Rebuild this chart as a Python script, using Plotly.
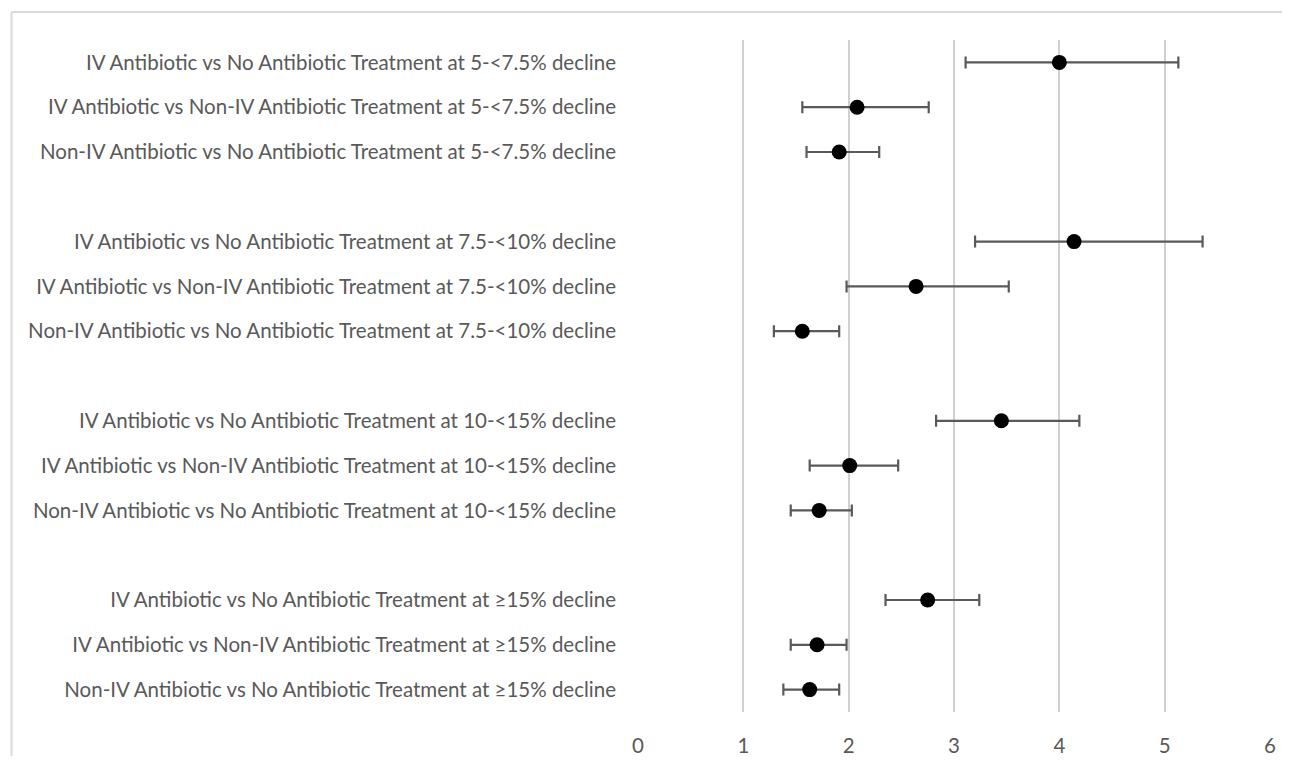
import plotly.graph_objects as go

labels = [
    "IV Antibiotic vs No Antibiotic Treatment at 5-<7.5% decline",
    "IV Antibiotic vs Non-IV Antibiotic Treatment at 5-<7.5% decline",
    "Non-IV Antibiotic vs No Antibiotic Treatment at 5-<7.5% decline",
    "IV Antibiotic vs No Antibiotic Treatment at 7.5-<10% decline",
    "IV Antibiotic vs Non-IV Antibiotic Treatment at 7.5-<10% decline",
    "Non-IV Antibiotic vs No Antibiotic Treatment at 7.5-<10% decline",
    "IV Antibiotic vs No Antibiotic Treatment at 10-<15% decline",
    "IV Antibiotic vs Non-IV Antibiotic Treatment at 10-<15% decline",
    "Non-IV Antibiotic vs No Antibiotic Treatment at 10-<15% decline",
    "IV Antibiotic vs No Antibiotic Treatment at ≥15% decline",
    "IV Antibiotic vs Non-IV Antibiotic Treatment at ≥15% decline",
    "Non-IV Antibiotic vs No Antibiotic Treatment at ≥15% decline",
]
estimate = [4.00, 2.08, 1.91, 4.14, 2.64, 1.56, 3.45, 2.01, 1.72, 2.75, 1.70, 1.63]
lower = [3.11, 1.56, 1.60, 3.20, 1.98, 1.29, 2.83, 1.63, 1.45, 2.35, 1.45, 1.38]
upper = [5.13, 2.76, 2.29, 5.36, 3.52, 1.91, 4.19, 2.47, 2.03, 3.24, 1.98, 1.91]
x_ticks = [0, 1, 2, 3, 4, 5, 6]

# category order with blank spacer rows between groups
spacers = [" ", "  ", "   "]
cat_order = []
for g in range(4):
    cat_order += labels[g * 3:(g + 1) * 3]
    if g < 3:
        cat_order.append(spacers[g])

# the page has an 8px body margin, so the figure is sized to fit inside it
OFF = 8
W, H = 1290 - 2 * OFF, 764 - 2 * OFF
ML, MT = 638 - OFF, 40 - OFF
MR = W - (1270.5 - OFF)
MB = H - (712 - OFF)
TEXT = "#595959"
FONT = "Lato"
FS = 20.5

fig = go.Figure()
fig.add_trace(go.Scatter(
    x=estimate, y=labels, mode="markers",
    marker=dict(color="black", size=15, symbol="circle"),
    error_x=dict(type="data", symmetric=False,
                 array=[u - e for u, e in zip(upper, estimate)],
                 arrayminus=[e - l for e, l in zip(estimate, lower)],
                 color="#595959", thickness=2.2, width=6),
    showlegend=False, hoverinfo="x+y",
))

pw = W - ML - MR
ph = H - MT - MB
def px2paper_x(px):
    return (px - OFF - ML) / pw
def px2paper_y(py):
    return (H - MB - (py - OFF)) / ph

fig.update_layout(
    width=W, height=H,
    margin=dict(l=ML, r=MR, t=MT, b=MB, autoexpand=False),
    paper_bgcolor="white", plot_bgcolor="white",
    font=dict(family=FONT, color=TEXT, size=FS),
    xaxis=dict(range=[0, 6], tickvals=x_ticks, showgrid=True, gridcolor="#d0d0d0",
               gridwidth=1.5, zeroline=False, showline=False, ticks="",
               tickfont=dict(size=FS, color=TEXT), ticklabelstandoff=19),
    yaxis=dict(type="category", categoryarray=cat_order, categoryorder="array",
               range=[len(cat_order) - 0.5, -0.5], showgrid=False, zeroline=False,
               showline=False, ticks="", tickfont=dict(size=FS, color=TEXT),
               ticklabelstandoff=21),
    shapes=[
        dict(type="line", xref="paper", yref="paper",
             x0=px2paper_x(11), x1=px2paper_x(1300), y0=px2paper_y(12), y1=px2paper_y(12),
             line=dict(color="#d9d9d9", width=2)),
        dict(type="line", xref="paper", yref="paper",
             x0=px2paper_x(11), x1=px2paper_x(11), y0=px2paper_y(12), y1=px2paper_y(760),
             line=dict(color="#d9d9d9", width=2)),
    ],
)

fig.write_html("out.html")
